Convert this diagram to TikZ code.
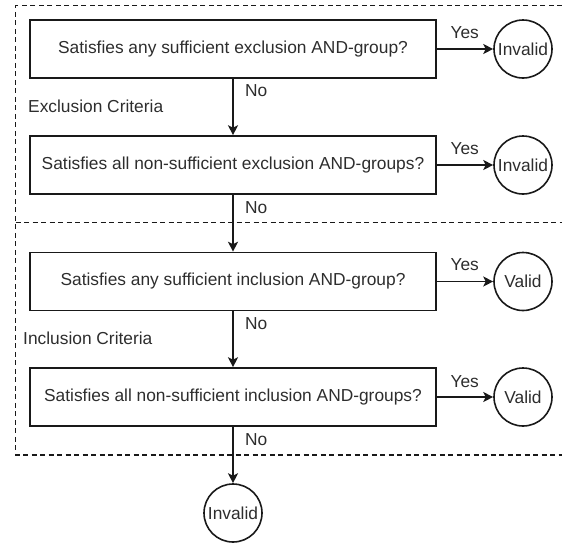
\documentclass[tikz,border=0pt]{standalone}
\usepackage{fontspec}
\setmainfont{Liberation Sans}
\usetikzlibrary{arrows.meta}
\definecolor{txt}{RGB}{45,45,45}
\definecolor{ln}{RGB}{25,25,25}
\begin{document}
\begin{tikzpicture}[x=1pt,y=-1pt,
  font=\fontsize{17.35}{20}\selectfont,
  every node/.style={text=txt},
  qbox/.style={draw=ln, line width=1.6pt, rectangle, minimum width=406pt, minimum height=58pt, inner sep=0pt},
  endpt/.style={draw=ln, line width=1.6pt, circle, minimum size=58pt, inner sep=0pt},
  flow/.style={draw=ln, line width=1.6pt, -{Stealth[length=10pt,width=10pt,inset=2.5pt]}},
  container/.style={draw=ln, line width=1.4pt, dash pattern=on 5pt off 3.5pt},
  lbl/.style={inner sep=0pt}
]
\useasboundingbox (0,0) rectangle (562,544);

% containers
\draw[container] (562,5.7) -- (15.7,5.7) -- (15.7,455) -- (562,455);
\draw[container] (15.7,222.7) -- (562,222.7);

% decision boxes
\node[qbox] (q1) at (233,49) {Satisfies any sufficient exclusion AND-group?};
\node[qbox] (q2) at (233,165) {Satisfies all non-sufficient exclusion AND-groups?};
\node[qbox] (q3) at (233,281.5) {Satisfies any sufficient inclusion AND-group?};
\node[qbox] (q4) at (233,397) {Satisfies all non-sufficient inclusion AND-groups?};

% terminal circles
\node[endpt] (r1) at (523,49) {Invalid};
\node[endpt] (r2) at (523,165) {Invalid};
\node[endpt] (r3) at (523,281.5) {Valid};
\node[endpt] (r4) at (523,397) {Valid};
\node[endpt] (r5) at (233,513) {Invalid};

% connectors
\draw[flow] (q1) -- (q2);
\draw[flow] (q2) -- (q3);
\draw[flow] (q3) -- (q4);
\draw[flow] (q4) -- (r5);
\draw[flow] (q1) -- (r1);
\draw[flow] (q2) -- (r2);
\draw[flow] (q3) -- (r3);
\draw[flow] (q4) -- (r4);

% edge labels
\node[lbl] (y1) at (464.7,33) {Yes};
\node[lbl] (y2) at (464.7,149) {Yes};
\node[lbl] (y3) at (464.7,265) {Yes};
\node[lbl] (y4) at (464.7,381.7) {Yes};
\node[lbl,anchor=west] (n1) at (245,91) {No};
\node[lbl,anchor=west] (n2) at (245,208) {No};
\node[lbl,anchor=west] (n3) at (245,324) {No};
\node[lbl,anchor=west] (n4) at (245,440) {No};

% container titles
\node[lbl,anchor=west] (ex) at (28,106) {Exclusion Criteria};
\node[lbl,anchor=west] (in) at (23,338) {Inclusion Criteria};
\end{tikzpicture}
\end{document}
